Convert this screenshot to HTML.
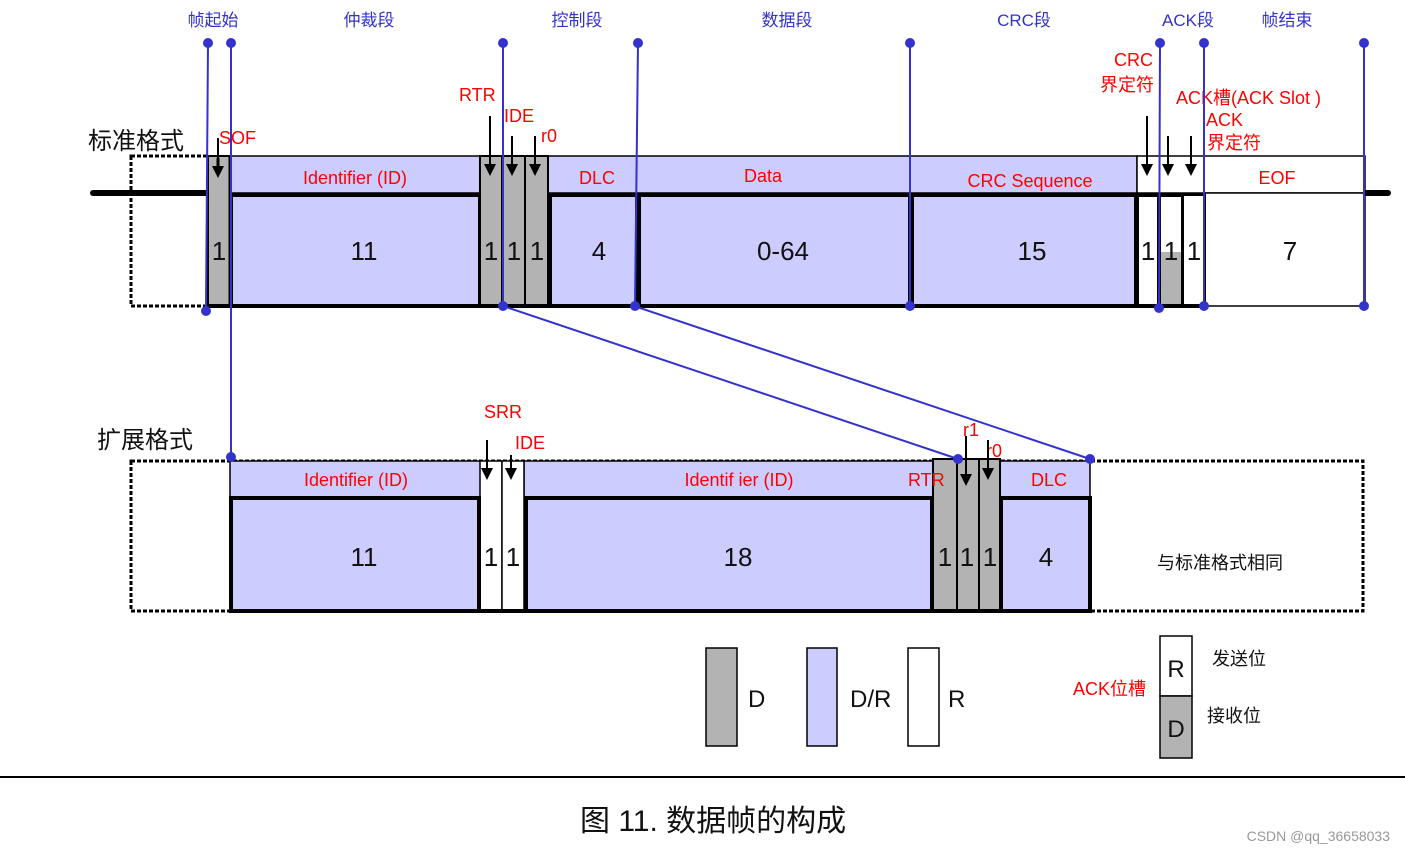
<!DOCTYPE html>
<html><head><meta charset="utf-8"><style>
body{margin:0;background:#fff}
svg{display:block}
text{font-family:"Liberation Sans","Noto Sans CJK SC",sans-serif}
.b{fill:#3333cc;font-size:17px}
.r{fill:#ff0000;font-size:18px}
.k{fill:#111;font-size:26px}
</style></head><body>
<svg width="1405" height="853" viewBox="0 0 1405 853" xmlns="http://www.w3.org/2000/svg">
<defs>
<marker id="ah" viewBox="0 0 10 10" refX="5" refY="9" markerWidth="7" markerHeight="7" orient="auto-start-reverse" markerUnits="userSpaceOnUse"></marker>
<g id="arr"><line x1="0" y1="-40" x2="0" y2="-10" stroke="#000" stroke-width="2"/><polygon points="-6,-12 6,-12 0,0" fill="#000"/></g>
</defs>
<!-- top labels -->
<text class="b" x="213" y="26" text-anchor="middle">帧起始</text>
<text class="b" x="369" y="26" text-anchor="middle">仲裁段</text>
<text class="b" x="577" y="26" text-anchor="middle">控制段</text>
<text class="b" x="787" y="26" text-anchor="middle">数据段</text>
<text class="b" x="1024" y="26" text-anchor="middle">CRC段</text>
<text class="b" x="1188" y="26" text-anchor="middle">ACK段</text>
<text class="b" x="1287" y="26" text-anchor="middle">帧结束</text>

<text x="88" y="149" font-size="24" fill="#111">标准格式</text>
<text x="97" y="448" font-size="24" fill="#111">扩展格式</text>

<!-- STANDARD FRAME -->
<line x1="93" y1="193" x2="1388" y2="193" stroke="#000" stroke-width="6" stroke-linecap="round"/>
<rect x="131" y="156" width="77" height="150" fill="none" stroke="#000" stroke-width="3" stroke-dasharray="4,2"/>
<!-- headers lavender -->
<rect x="230" y="156" width="250" height="37" fill="#ccccff" stroke="#000" stroke-width="1.5"/>
<rect x="548" y="156" width="589" height="37" fill="#ccccff" stroke="#000" stroke-width="1.5"/>
<rect x="1137" y="156" width="228" height="37" fill="#fff" stroke="#000" stroke-width="1.5"/>
<rect x="1205" y="193" width="160" height="113" fill="#fff" stroke="#000" stroke-width="1.5"/>
<!-- lower boxes -->
<rect x="231" y="195" width="249" height="111" fill="#ccccff" stroke="#000" stroke-width="4"/>
<rect x="550" y="195" width="87" height="111" fill="#ccccff" stroke="#000" stroke-width="4"/>
<rect x="639" y="195" width="271" height="111" fill="#ccccff" stroke="#000" stroke-width="4"/>
<rect x="912" y="195" width="224" height="111" fill="#ccccff" stroke="#000" stroke-width="4"/>
<rect x="1137" y="195" width="22" height="111" fill="#fff" stroke="#000" stroke-width="4"/>
<rect x="1161" y="252" width="22" height="54" fill="#b3b3b3"/>
<rect x="1159" y="195" width="24" height="111" fill="none" stroke="#000" stroke-width="4"/>
<rect x="1183" y="195" width="22" height="111" fill="#fff" stroke="#000" stroke-width="2"/>
<line x1="1137" y1="306" x2="1205" y2="306" stroke="#000" stroke-width="4"/>
<!-- gray full fields -->
<rect x="208" y="156" width="22" height="150" fill="#b3b3b3" stroke="#000" stroke-width="2"/>
<rect x="480" y="156" width="22" height="150" fill="#b3b3b3" stroke="#000" stroke-width="2"/>
<rect x="502" y="156" width="23" height="150" fill="#b3b3b3" stroke="#000" stroke-width="2"/>
<rect x="525" y="156" width="23" height="150" fill="#b3b3b3" stroke="#000" stroke-width="2"/>
<line x1="208" y1="306" x2="548" y2="306" stroke="#000" stroke-width="4"/>
<line x1="230" y1="156" x2="230" y2="306" stroke="#000" stroke-width="3"/>

<text class="r" x="355" y="184" text-anchor="middle">Identifier (ID)</text>
<text class="r" x="597" y="184" text-anchor="middle">DLC</text>
<text class="r" x="763" y="182" text-anchor="middle">Data</text>
<text class="r" x="1030" y="187" text-anchor="middle">CRC Sequence</text>
<text class="r" x="1277" y="184" text-anchor="middle">EOF</text>
<g class="k" text-anchor="middle">
<text x="219" y="260">1</text><text x="364" y="260">11</text>
<text x="491" y="260">1</text><text x="514" y="260">1</text><text x="537" y="260">1</text>
<text x="599" y="260">4</text><text x="783" y="260">0-64</text><text x="1032" y="260">15</text>
<text x="1148" y="260">1</text><text x="1171" y="260">1</text><text x="1194" y="260">1</text>
<text x="1290" y="260">7</text></g>

<text class="r" x="219" y="144">SOF</text>
<text class="r" x="459" y="101">RTR</text>
<text class="r" x="504" y="122">IDE</text>
<text class="r" x="541" y="142">r0</text>
<text class="r" x="1114" y="66">CRC</text>
<text class="r" x="1100" y="91">界定符</text>
<text class="r" x="1176" y="104">ACK槽(ACK Slot )</text>
<text class="r" x="1206" y="126">ACK</text>
<text class="r" x="1207" y="149">界定符</text>
<use href="#arr" x="218" y="178" transform="translate(0,0)"/>
<g transform="translate(218,178) scale(1,0.5)"><line x1="0" y1="-40" x2="0" y2="-10" stroke="#000" stroke-width="3"/></g>
<use href="#arr" x="490" y="176"/>
<line x1="490" y1="116" x2="490" y2="140" stroke="#000" stroke-width="2"/>
<use href="#arr" x="512" y="176"/>
<use href="#arr" x="535" y="176"/>
<use href="#arr" x="1147" y="176"/>
<line x1="1147" y1="116" x2="1147" y2="140" stroke="#000" stroke-width="2"/>
<use href="#arr" x="1168" y="176"/>
<use href="#arr" x="1191" y="176"/>

<!-- EXTENDED FRAME -->
<rect x="131" y="461" width="1232" height="150" fill="none" stroke="#000" stroke-width="3" stroke-dasharray="4,2"/>
<rect x="230" y="461" width="251" height="36" fill="#ccccff" stroke="#000" stroke-width="1.5"/>
<rect x="524" y="461" width="409" height="36" fill="#ccccff" stroke="#000" stroke-width="1.5"/>
<rect x="1000" y="461" width="90" height="36" fill="#ccccff" stroke="#000" stroke-width="1.5"/>
<rect x="480" y="461" width="22" height="150" fill="#fff" stroke="#000" stroke-width="1.5"/>
<rect x="502" y="461" width="22" height="150" fill="#fff" stroke="#000" stroke-width="1.5"/>
<rect x="231" y="498" width="248" height="113" fill="#ccccff" stroke="#000" stroke-width="4"/>
<rect x="526" y="498" width="406" height="113" fill="#ccccff" stroke="#000" stroke-width="4"/>
<rect x="1001" y="498" width="89" height="113" fill="#ccccff" stroke="#000" stroke-width="4"/>
<rect x="933" y="459" width="24" height="152" fill="#b3b3b3" stroke="#000" stroke-width="2"/>
<rect x="957" y="459" width="22" height="152" fill="#b3b3b3" stroke="#000" stroke-width="2"/>
<rect x="979" y="459" width="21" height="152" fill="#b3b3b3" stroke="#000" stroke-width="2"/>
<line x1="231" y1="611" x2="1091" y2="611" stroke="#000" stroke-width="4"/>
<text class="r" x="356" y="486" text-anchor="middle">Identifier (ID)</text>
<text class="r" x="739" y="486" text-anchor="middle">Identif ier (ID)</text>
<text class="r" x="908" y="486">RTR</text>
<text class="r" x="1049" y="486" text-anchor="middle">DLC</text>
<text class="r" x="484" y="418">SRR</text>
<text class="r" x="515" y="449">IDE</text>
<text class="r" x="963" y="436">r1</text>
<text class="r" x="986" y="457">r0</text>
<use href="#arr" x="487" y="480"/>
<use href="#arr" x="511" y="480"/>
<line x1="511" y1="455" x2="511" y2="440" stroke="#fff" stroke-width="3"/>
<use href="#arr" x="966" y="486"/>
<line x1="966" y1="436" x2="966" y2="450" stroke="#000" stroke-width="2"/>
<use href="#arr" x="988" y="480"/>
<line x1="988" y1="440" x2="988" y2="456" stroke="#fff" stroke-width="0"/>
<g class="k" text-anchor="middle">
<text x="364" y="566">11</text><text x="491" y="566">1</text><text x="513" y="566">1</text>
<text x="738" y="566">18</text><text x="945" y="566">1</text><text x="967" y="566">1</text><text x="990" y="566">1</text>
<text x="1046" y="566">4</text></g>
<text x="1220" y="569" font-size="18" fill="#111" text-anchor="middle">与标准格式相同</text>

<!-- BLUE LINES -->
<g stroke="#3333cc" stroke-width="2" fill="none">
<line x1="208" y1="43" x2="206" y2="311"/>
<line x1="231" y1="43" x2="231" y2="457"/>
<line x1="503" y1="43" x2="503" y2="306"/>
<line x1="638" y1="43" x2="635" y2="306"/>
<line x1="910" y1="43" x2="910" y2="306"/>
<line x1="1160" y1="43" x2="1159" y2="308"/>
<line x1="1204" y1="43" x2="1204" y2="306"/>
<line x1="1364" y1="43" x2="1364" y2="306"/>
<line x1="503" y1="306" x2="958" y2="459"/>
<line x1="634" y1="306" x2="1090" y2="459"/>
</g>
<g fill="#3333cc">
<circle cx="208" cy="43" r="5"/><circle cx="231" cy="43" r="5"/><circle cx="503" cy="43" r="5"/><circle cx="638" cy="43" r="5"/>
<circle cx="910" cy="43" r="5"/><circle cx="1160" cy="43" r="5"/><circle cx="1204" cy="43" r="5"/><circle cx="1364" cy="43" r="5"/>
<circle cx="206" cy="311" r="5"/><circle cx="503" cy="306" r="5"/><circle cx="635" cy="306" r="5"/><circle cx="910" cy="306" r="5"/>
<circle cx="1159" cy="308" r="5"/><circle cx="1204" cy="306" r="5"/><circle cx="1364" cy="306" r="5"/>
<circle cx="231" cy="457" r="5"/><circle cx="958" cy="459" r="5"/><circle cx="1090" cy="459" r="5"/>
</g>

<!-- LEGEND -->
<rect x="706" y="648" width="31" height="98" fill="#b3b3b3" stroke="#000" stroke-width="1.5"/>
<text x="748" y="707" font-size="24" fill="#111">D</text>
<rect x="807" y="648" width="30" height="98" fill="#ccccff" stroke="#000" stroke-width="1.5"/>
<text x="850" y="707" font-size="24" fill="#111">D/R</text>
<rect x="908" y="648" width="31" height="98" fill="#fff" stroke="#000" stroke-width="1.5"/>
<text x="948" y="707" font-size="24" fill="#111">R</text>
<rect x="1160" y="636" width="32" height="60" fill="#fff" stroke="#000" stroke-width="1.5"/>
<rect x="1160" y="696" width="32" height="62" fill="#b3b3b3" stroke="#000" stroke-width="1.5"/>
<text x="1176" y="677" font-size="24" fill="#111" text-anchor="middle">R</text>
<text x="1176" y="737" font-size="24" fill="#111" text-anchor="middle">D</text>
<text class="r" x="1073" y="695">ACK位槽</text>
<text x="1212" y="665" font-size="18" fill="#111">发送位</text>
<text x="1207" y="722" font-size="18" fill="#111">接收位</text>

<line x1="0" y1="777" x2="1405" y2="777" stroke="#000" stroke-width="2"/>
<text x="580" y="831" font-size="30" fill="#111">图 11.   数据帧的构成</text>
<text x="1390" y="841" font-size="14" fill="#999" text-anchor="end">CSDN @qq_36658033</text>
</svg>
</body></html>
